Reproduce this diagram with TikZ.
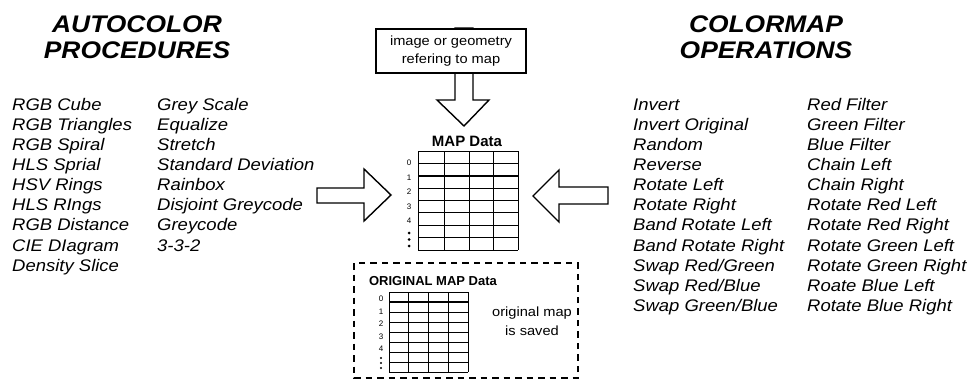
\documentclass[tikz,border=0pt]{standalone}
\usepackage{fontspec}
\setmainfont{Liberation Sans}
\newfontfamily\widefont[FakeStretch=1.1]{Liberation Sans}
\begin{document}
\begin{tikzpicture}[x=1pt,y=-1pt,
  title/.style={font=\widefont\fontsize{24}{27}\selectfont\bfseries\itshape, inner sep=0pt, anchor=base},
  item/.style={font=\widefont\fontsize{16.8}{20}\selectfont\itshape, inner sep=0pt, anchor=base west},
  blockarrow/.style={draw=black, fill=white, line width=1.4pt, line join=miter},
  gridv/.style={line width=0.6pt},
  gridh/.style={line width=1pt},
  gridhh/.style={line width=1.7pt},
  rowlbl/.style={font=\fontsize{8}{9}\selectfont, inner sep=0pt},
  caption/.style={font=\bfseries, inner sep=0pt, anchor=base},
  note/.style={font=\widefont\fontsize{13.3}{18.5}\selectfont, align=center, inner sep=0pt}
]
\useasboundingbox (0,0) rectangle (969,380);

% headings
\node[title] (ah1) at (137,32) {AUTOCOLOR};
\node[title] (ah2) at (137,58.5) {PROCEDURES};
\node[title] (ch1) at (766,32) {COLORMAP};
\node[title] (ch2) at (766,58.5) {OPERATIONS};

% autocolor procedures
\foreach \t [count=\i] in {RGB Cube, RGB Triangles, RGB Spiral, HLS Sprial, HSV Rings, HLS RIngs, RGB Distance, CIE DIagram, Density Slice}
  \node[item] (pa\i) at (12,{110+(\i-1)*20.15}) {\t};
\foreach \t [count=\i] in {Grey Scale, Equalize, Stretch, Standard Deviation, Rainbox, Disjoint Greycode, Greycode, 3-3-2}
  \node[item] (pb\i) at (157,{110+(\i-1)*20.15}) {\t};

% colormap operations
\foreach \t [count=\i] in {Invert, Invert Original, Random, Reverse, Rotate Left, Rotate Right, Band Rotate Left, Band Rotate Right, Swap Red/Green, Swap Red/Blue, Swap Green/Blue}
  \node[item] (oa\i) at (633,{110+(\i-1)*20.15}) {\t};
\foreach \t [count=\i] in {Red Filter, Green Filter, Blue Filter, Chain Left, Chain Right, Rotate Red Left, Rotate Red Right, Rotate Green Left, Rotate Green Right, Roate Blue Left, Rotate Blue Right}
  \node[item] (ob\i) at (807,{110+(\i-1)*20.15}) {\t};

% block arrow from the source box down to the map
\draw[blockarrow] (455,28) -- (473,28) -- (473,100) -- (489,100) -- (464,126)
  -- (437,100) -- (455,100) -- cycle;
% source box
\node[draw, line width=1.3pt, fill=white, minimum width=150pt, minimum height=44pt,
      note, inner sep=0pt] (src) at (451,51) {image or geometry\\refering to map};

% block arrows from both lists into the map
\draw[blockarrow] (317,188) -- (364,188) -- (364,169) -- (391,195) -- (364,221)
  -- (364,203) -- (317,203) -- cycle;
\draw[blockarrow] (608,187) -- (559,187) -- (559,170) -- (533,196) -- (559,222)
  -- (559,204) -- (608,204) -- cycle;

% current map table
\node[caption, font=\bfseries\fontsize{15}{17}\selectfont] (mapcap) at (467,146) {MAP Data};
\foreach \x in {418,444,469,493,518}
  \draw[gridv] (\x,151) -- (\x,250);
\foreach \k in {0,1,3,4,5,6,8}
  \draw[gridh] (418,{151+\k*12.375}) -- (518,{151+\k*12.375});
\foreach \k in {2,7}
  \draw[gridhh] (418,{151+\k*12.375}) -- (518,{151+\k*12.375});
\foreach \n [count=\i from 0] in {0,1,2,3,4}
  \node[rowlbl] (ml\n) at (409,{163+\i*14.5}) {\n};
\foreach \y in {233,239.5,246}
  \fill (409,\y) circle (1.5pt);

% saved original map
\draw[line width=1.2pt, dash pattern=on 6.5pt off 5pt] (354,263) rectangle (578,378);
\node[caption, font=\bfseries\fontsize{13}{15}\selectfont] (origcap) at (433,285) {ORIGINAL MAP Data};
\foreach \x in {389,408,428,448,468}
  \draw[gridv] (\x,292) -- (\x,372);
\foreach \k in {0,2,3,4,5,6,7,8}
  \draw[gridh] (389,{292+\k*10}) -- (468,{292+\k*10});
\draw[gridhh] (389,302) -- (468,302);
\foreach \n [count=\i from 0] in {0,1,2,3,4}
  \node[rowlbl] (ol\n) at (381,{299+\i*12.5}) {\n};
\foreach \y in {358,363,368}
  \fill (381,\y) circle (1.2pt);
\node[note] (saved) at (532,321) {original map\\is saved};
\end{tikzpicture}
\end{document}
